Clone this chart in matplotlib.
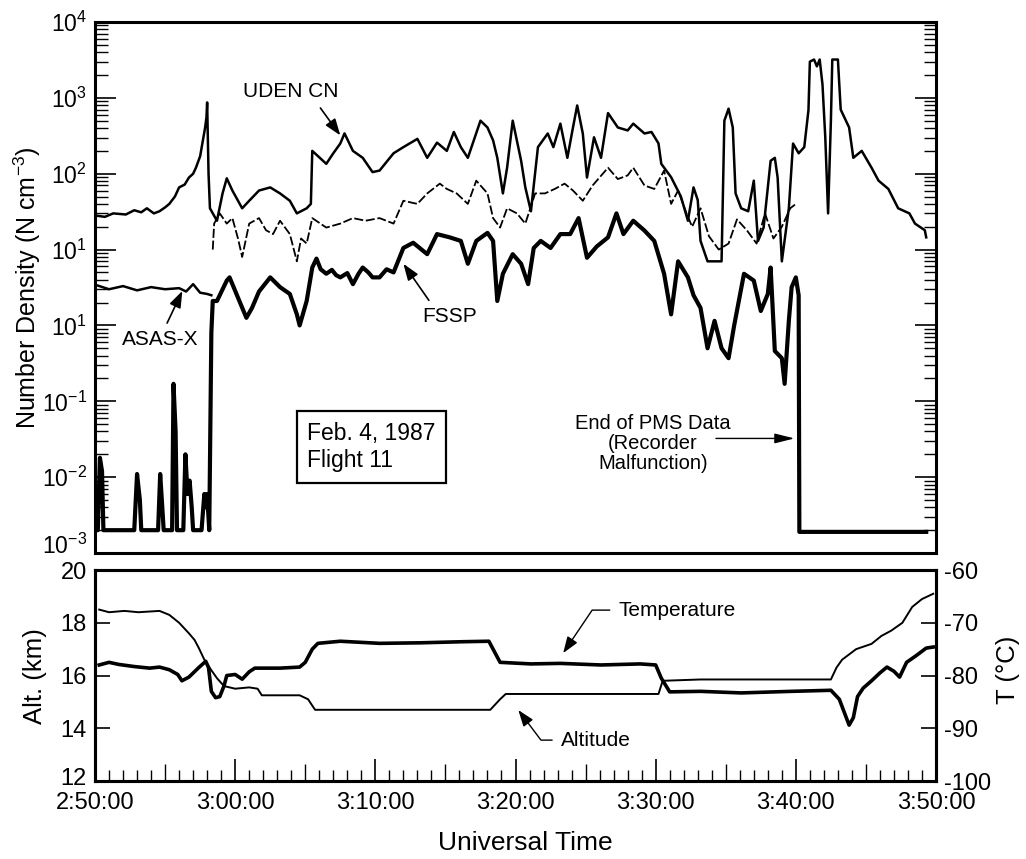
import numpy as np
import matplotlib
matplotlib.use("Agg")
import matplotlib.pyplot as plt
from matplotlib.ticker import FixedLocator, FuncFormatter, LogLocator, NullFormatter
from matplotlib.transforms import ScaledTranslation

plt.rcParams["font.family"] = ["Liberation Sans", "DejaVu Sans"]
plt.rcParams["mathtext.default"] = "regular"
plt.rcParams["axes.unicode_minus"] = False

# time in minutes after 2:50:00 UT
uden_t = [0.1, 0.7, 1.3, 2.2, 2.8, 3.3, 3.7, 4.2, 4.6, 5.0, 5.3, 5.7, 6.0, 6.4, 6.7, 7.0,
          7.2, 7.5, 7.7, 7.85, 7.95, 8.0, 8.1, 8.2, 8.7, 9.1, 9.4, 9.8,
          10.5, 11.0, 11.7, 12.5, 13.2, 13.9, 14.4, 15.1, 15.4, 15.5, 16.5, 17.0, 17.5, 17.8,
          18.4, 19.1, 19.8, 20.3, 21.3, 22.0, 23.0, 23.7, 24.4, 25.1, 25.6, 26.1, 26.6, 27.5,
          28.0, 28.4, 28.7, 29.1, 29.4, 29.8, 30.4, 30.7, 31.1, 31.6, 32.3, 32.7, 33.2, 33.7,
          34.1, 34.4, 34.8, 35.1, 35.6, 36.1, 36.6, 37.3, 38.0, 38.4, 39.2, 39.7, 40.2,
          40.4, 41.1, 41.8, 42.3, 42.7, 43.0, 43.2, 43.7, 44.7, 44.9, 45.2, 45.5, 45.7, 46.1,
          46.6, 47.0, 47.3, 47.7, 48.2, 48.5, 48.7, 49.0, 49.5, 49.8, 50.2, 50.6, 50.9, 51.0,
          51.3, 51.5, 51.7, 51.9, 52.1, 52.3, 52.5, 52.6, 53.0, 53.2, 53.8, 54.1, 54.7, 55.4,
          55.9, 56.6, 57.3, 58.1, 58.5, 59.2, 59.3]
uden_n = [28, 27, 30, 29, 33, 31, 35, 30, 32, 36, 40, 50, 66, 72, 89, 100,
          120, 170, 275, 400, 550, 870, 100, 35, 24, 55, 87, 60,
          35, 44, 60, 66, 55, 44, 30, 35, 40, 200, 135, 186, 250, 340,
          200, 162, 105, 110, 186, 224, 288, 162, 257, 200, 355, 224, 162, 500,
          407, 275, 162, 55, 120, 500, 148, 66, 32, 224, 339, 224, 457, 162,
          407, 794, 339, 89, 302, 162, 630, 407, 372, 457, 339, 355, 251,
          135, 90, 50, 24, 66, 45, 13, 7, 7, 500, 720, 407, 55, 35,
          32, 81, 13, 19.5, 148, 162, 89, 7, 35, 250, 186, 224, 690, 3000,
          3200, 2600, 3200, 1500, 300, 30, 500, 3200, 3200, 700, 407, 162, 200, 120,
          81, 63, 35, 30, 22, 18, 14.5]

asas_t = [0.1, 1.0, 2.0, 3.0, 4.0, 5.0, 6.0, 6.5, 7.0, 7.5, 8.0, 8.3,
          8.4, 8.5, 8.9, 9.4, 9.8, 10.2, 10.5, 11.0, 11.7, 12.2, 12.7, 13.2, 13.9, 14.4,
          14.7, 15.1, 15.5, 16.5, 17.5, 18.4, 19.3, 20.3, 21.3, 22.0, 23.0, 23.7, 24.6,
          25.1, 25.8, 26.6, 27.2, 28.0, 28.4, 28.9, 29.4, 30.1, 30.7, 31.4, 32.1, 32.8,
          33.5, 34.1, 34.8, 35.5, 36.6, 37.3, 38.0, 38.4, 39.2, 39.9, 40.6, 41.1, 41.6,
          42.2, 42.6, 43.2, 43.8, 44.5, 45.2, 45.8, 46.5, 47.2, 47.8, 48.4, 49.0, 49.6, 50.0]
asas_n = [3.4, 3.0, 3.3, 2.9, 3.2, 3.0, 3.1, 2.8, 3.5, 2.7, 2.6, 2.5,
          10, 22, 30, 22, 26, 14, 8, 22, 26, 18, 16, 24, 16, 7,
          14, 12, 26, 19.5, 22, 26, 24, 26, 22, 44, 40, 55, 74,
          63, 55, 40, 81, 55, 26, 19.5, 35, 30, 22, 55, 55, 63,
          74, 60, 44, 70, 120, 85, 95, 120, 70, 63, 110, 40, 60,
          30, 20, 35, 15, 10, 12, 25, 18, 12, 30, 14, 20, 35, 40]

fssp_t = [0.0, 0.2, 0.35, 0.5, 0.6, 2.8, 3.0, 3.2, 3.3, 4.5, 4.65, 4.8, 4.9, 5.5, 5.6,
          5.75, 5.85, 6.3, 6.45, 6.6, 6.75, 6.9, 7.0, 7.6, 7.8, 7.9, 8.0, 8.15, 8.3, 8.4,
          8.7, 9.4, 9.6, 10.3, 10.8, 11.2, 11.7, 12.5, 13.2, 13.9, 14.4, 14.6, 15.1, 15.5,
          15.8, 16.1, 16.5, 16.9, 17.2, 17.5, 18.0, 18.4, 18.8, 19.1, 19.5, 19.8, 20.3,
          20.8, 21.3, 22.0, 22.7, 23.7, 24.4, 25.3,
          26.1, 26.6, 27.2, 28.0, 28.4, 28.7, 29.1, 29.8, 30.4, 30.9, 31.3, 31.8, 32.5,
          33.2, 33.9, 34.5, 35.1, 35.8, 36.6, 37.2, 37.7, 38.4, 39.2, 39.9, 40.6, 41.1,
          41.6, 42.3, 42.7, 43.2, 43.7, 44.2, 44.7, 45.2, 45.6, 46.3, 47.0, 47.5, 48.0,
          48.2, 48.5, 49.0, 49.2, 49.5, 49.7, 50.0, 50.2, 50.25, 59.3]
fssp_n = [0.002, 0.002, 0.018, 0.012, 0.002, 0.002, 0.011, 0.005, 0.002, 0.002, 0.011,
          0.004, 0.002, 0.002, 0.17, 0.04, 0.002, 0.002, 0.02, 0.006, 0.009, 0.004, 0.002,
          0.002, 0.006, 0.004, 0.006, 0.002, 0.8, 2.1,
          2.1, 3.9, 4.3, 2.1, 1.26, 1.7, 2.8, 4.3, 3.2, 2.6, 1.4, 1.0, 2.1, 5.8,
          7.6, 5.5, 4.8, 5.4, 4.6, 4.3, 4.9, 3.5, 4.8, 5.8, 5.0, 4.3, 4.3,
          5.5, 5.0, 10.5, 12.3, 8.7, 16, 14.5,
          13, 6.5, 13, 16.6, 13, 2.1, 4.8, 8.7, 6.5, 3.5, 10.5, 13, 10.5,
          16, 16, 26, 7.8, 11, 14.5, 30, 16, 24, 17.8, 13, 4.8, 1.4,
          7, 4.3, 2.5, 1.7, 0.5, 1.15, 0.5, 0.37, 1.0, 4.8, 3.9, 1.55, 2.6,
          5.8, 0.46, 0.37, 0.17, 1.15, 3.2, 4.3, 2.5, 0.0019, 0.0019]

alt_t = [0.3, 1.0, 2.1, 3.1, 4.6, 5.3, 6.0, 6.7, 7.1, 7.4, 7.8, 8.3, 8.7, 9.2, 10.0,
         11.0, 11.6, 11.9, 13.2, 14.6, 15.2, 15.7, 18.2, 21.8, 28.2, 28.9, 29.3, 33.2,
         37.5, 40.2, 40.5, 43.2, 47.5, 52.5, 52.9, 53.3, 54.3, 55.4, 56.1, 56.8, 57.6,
         58.3, 59.0, 59.8]
alt_km = [18.5, 18.4, 18.45, 18.4, 18.45, 18.3, 18.0, 17.6, 17.35, 17.05, 16.6, 16.2,
          15.9, 15.6, 15.5, 15.55, 15.5, 15.25, 15.25, 15.25, 15.1, 14.7, 14.7, 14.7,
          14.7, 15.1, 15.3, 15.3, 15.3, 15.3, 15.8, 15.85, 15.85, 15.85, 16.3, 16.6,
          17.0, 17.2, 17.5, 17.7, 18.0, 18.6, 18.9, 19.1]

temp_t = [0.3, 1.0, 1.7, 2.8, 3.9, 4.6, 5.3, 5.9, 6.2, 6.7, 7.4, 7.9, 8.1, 8.3, 8.6,
          8.9, 9.2, 9.4, 10.0, 10.5, 11.0, 11.4, 13.2, 14.6, 15.0, 15.5, 15.9, 17.5,
          20.3, 23.2, 26.1, 28.1, 28.4, 28.9, 31.1, 33.2, 36.1, 38.9, 40.0, 40.4, 41.0,
          43.2, 46.1, 49.7, 52.5, 53.1, 53.6, 53.8, 54.1, 54.4, 54.8, 55.4, 56.0, 56.5,
          57.0, 57.4, 57.9, 58.6, 59.3, 59.8]
temp_c = [-78.0, -77.5, -77.9, -78.3, -78.6, -78.4, -78.9, -79.8, -81.0, -80.3, -78.5,
          -77.3, -78.5, -83.0, -84.2, -84.0, -82.0, -80.0, -79.8, -80.7, -79.3, -78.6,
          -78.6, -78.4, -77.5, -75.0, -73.9, -73.5, -73.9, -73.8, -73.6, -73.5, -75.0,
          -77.5, -77.8, -77.7, -78.0, -77.8, -78.0, -80.5, -83.1, -83.0, -83.3, -83.0,
          -82.8, -84.5, -88.0, -89.4, -88.0, -84.0, -82.4, -81.0, -79.5, -78.4, -79.2,
          -80.3, -77.5, -76.2, -74.8, -74.6]

decade_pos = [1e-3, 1e-2, 1e-1, 1e0, 1e1, 1e2, 1e3, 1e4]
decade_lbl = ["$10^{-3}$", "$10^{-2}$", "$10^{-1}$", "$10^{1}$", "$10^{1}$",
              "$10^{2}$", "$10^{3}$", "$10^{4}$"]


def ut_label(m, pos):
    s = int(round(m * 60)) + 2 * 3600 + 50 * 60
    return f"{s // 3600}:{(s % 3600) // 60:02d}:{s % 60:02d}"


fig = plt.figure(figsize=(10.26, 8.59), dpi=100)
ax1 = fig.add_axes([0.0926, 0.3562, 0.8197, 0.6182])
ax2 = fig.add_axes([0.0926, 0.0908, 0.8197, 0.2456])
ax2r = ax2.twinx()

# ---- top panel: number densities ----
asas_t = np.array(asas_t); asas_n = np.array(asas_n)
ax1.plot(uden_t, uden_n, color="k", lw=1.8)
pre = asas_t <= 8.3
ax1.plot(asas_t[pre], asas_n[pre], color="k", lw=1.8)
ax1.plot(asas_t[~pre], asas_n[~pre], color="k", lw=1.3, ls=(0, (5, 1.5)))
ax1.plot(fssp_t, fssp_n, color="k", lw=3.0)

ax1.set_yscale("log")
ax1.set_xlim(0, 60)
ax1.set_ylim(1e-3, 1e4)
ax1.yaxis.set_major_locator(FixedLocator(decade_pos))
ax1.set_yticklabels(decade_lbl)
ax1.yaxis.set_minor_locator(LogLocator(base=10, subs=np.arange(2, 10), numticks=20))
ax1.yaxis.set_minor_formatter(NullFormatter())
ax1.tick_params(axis="y", which="major", direction="in", length=15, width=1.2,
                labelsize=16.5, right=True, pad=6)
ax1.tick_params(axis="y", which="minor", direction="in", length=9, width=1.0, right=True)
ax1.tick_params(axis="x", which="both", bottom=False, labelbottom=False)
for sp in ax1.spines.values():
    sp.set_linewidth(2.2)

arrow_kw = dict(arrowstyle="-|>,head_length=0.5,head_width=0.18", color="k",
                lw=1.2, mutation_scale=20, shrinkB=0)
ax1.annotate("UDEN CN", xy=(17.5, 320), xytext=(14.0, 1222), ha="center", va="center",
             fontsize=15, arrowprops=dict(arrow_kw, relpos=(0.75, 0), shrinkA=4))
ax1.annotate("ASAS-X", xy=(6.23, 2.85), xytext=(4.65, 0.66), ha="center", va="center",
             fontsize=15, arrowprops=dict(arrow_kw, relpos=(0.55, 1), shrinkA=3))
ax1.annotate("FSSP", xy=(22.0, 6.5), xytext=(25.3, 1.33), ha="center", va="center",
             fontsize=15, arrowprops=dict(arrow_kw, relpos=(0.2, 1), shrinkA=3))
ax1.text(39.8, 0.0278, "End of PMS Data\n(Recorder\nMalfunction)", ha="center",
         va="center", fontsize=14.5, linespacing=1.05)
ax1.annotate("", xy=(49.9, 0.0324), xytext=(44.3, 0.0324),
             arrowprops=dict(arrowstyle="-|>,head_length=0.6,head_width=0.15", color="k",
                             lw=1.0, mutation_scale=20, shrinkA=0, shrinkB=0))
ax1.text(0.252, 0.1996, "Feb. 4, 1987\nFlight 11", transform=ax1.transAxes,
         ha="left", va="center", fontsize=16.5, linespacing=1.25,
         bbox=dict(boxstyle="square,pad=0.45", fc="white", ec="k", lw=1.6))

# ---- bottom panel: altitude and temperature ----
ax2.plot(alt_t, alt_km, color="k", lw=1.4)
ax2r.plot(temp_t, temp_c, color="k", lw=2.6)

ax2.set_xlim(0, 60)
ax2.set_ylim(12, 20)
ax2.set_yticks([12, 14, 16, 18, 20])
ax2r.set_ylim(-100, -60)
ax2r.set_yticks([-100, -90, -80, -70, -60])
ax2.xaxis.set_major_locator(FixedLocator(np.arange(0, 61, 10)))
ax2.xaxis.set_major_formatter(FuncFormatter(ut_label))
ax2.xaxis.set_minor_locator(FixedLocator([m for m in range(1, 60) if m % 5]))
ax2.tick_params(axis="x", which="major", direction="in", length=16, width=1.2,
                labelsize=17, pad=8)
ax2.tick_params(axis="x", which="minor", direction="in", length=8, width=1.0)
ax2.tick_params(axis="y", direction="in", length=11, width=1.2, labelsize=17, pad=6)
ax2r.tick_params(axis="y", direction="in", length=11, width=1.2, labelsize=17, pad=6)
for sp in list(ax2.spines.values()) + list(ax2r.spines.values()):
    sp.set_linewidth(2.2)

# five-minute ticks, a little longer than the one-minute ones
sec = ax2.secondary_xaxis("bottom")
sec.set_xticks(np.arange(5, 60, 10))
sec.tick_params(axis="x", direction="in", length=12, width=1.0, labelbottom=False)
sec.spines["bottom"].set_visible(False)

ax2.annotate("Temperature", xy=(33.4, 16.85), xytext=(41.5, 18.48), ha="center",
             va="center", fontsize=15,
             arrowprops=dict(arrow_kw, lw=1.0, relpos=(0, 0.5), shrinkA=4,
                             connectionstyle="angle,angleA=0,angleB=56,rad=0"))
ax2.annotate("Altitude", xy=(30.2, 14.69), xytext=(35.7, 13.55), ha="center",
             va="center", fontsize=15,
             arrowprops=dict(arrow_kw, lw=1.0, relpos=(0, 0.5), shrinkA=4,
                             connectionstyle="angle,angleA=0,angleB=-53,rad=0"))

# nudge the end labels that sit where the two panels meet
fig.canvas.draw()
lab = ax1.get_yticklabels()[0]
lab.set_transform(lab.get_transform() + ScaledTranslation(0, 0.09, fig.dpi_scale_trans))
lab = ax2.get_yticklabels()[0]
lab.set_transform(lab.get_transform() + ScaledTranslation(0, 0.05, fig.dpi_scale_trans))

fig.text(27 / 1026, 1 - 288 / 859, "Number Density (N cm$^{-3}$)", rotation=90,
         ha="center", va="center", fontsize=18)
fig.text(35 / 1026, 1 - 676 / 859, "Alt. (km)", rotation=90, ha="center", va="center",
         fontsize=18.5)
fig.text(1008 / 1026, 1 - 670 / 859, "T (°C)", rotation=90, ha="center", va="center",
         fontsize=18.5)
fig.text(525 / 1026, 1 - 843 / 859, "Universal Time", ha="center", va="center",
         fontsize=19)

fig.savefig("out.png", dpi=100)
